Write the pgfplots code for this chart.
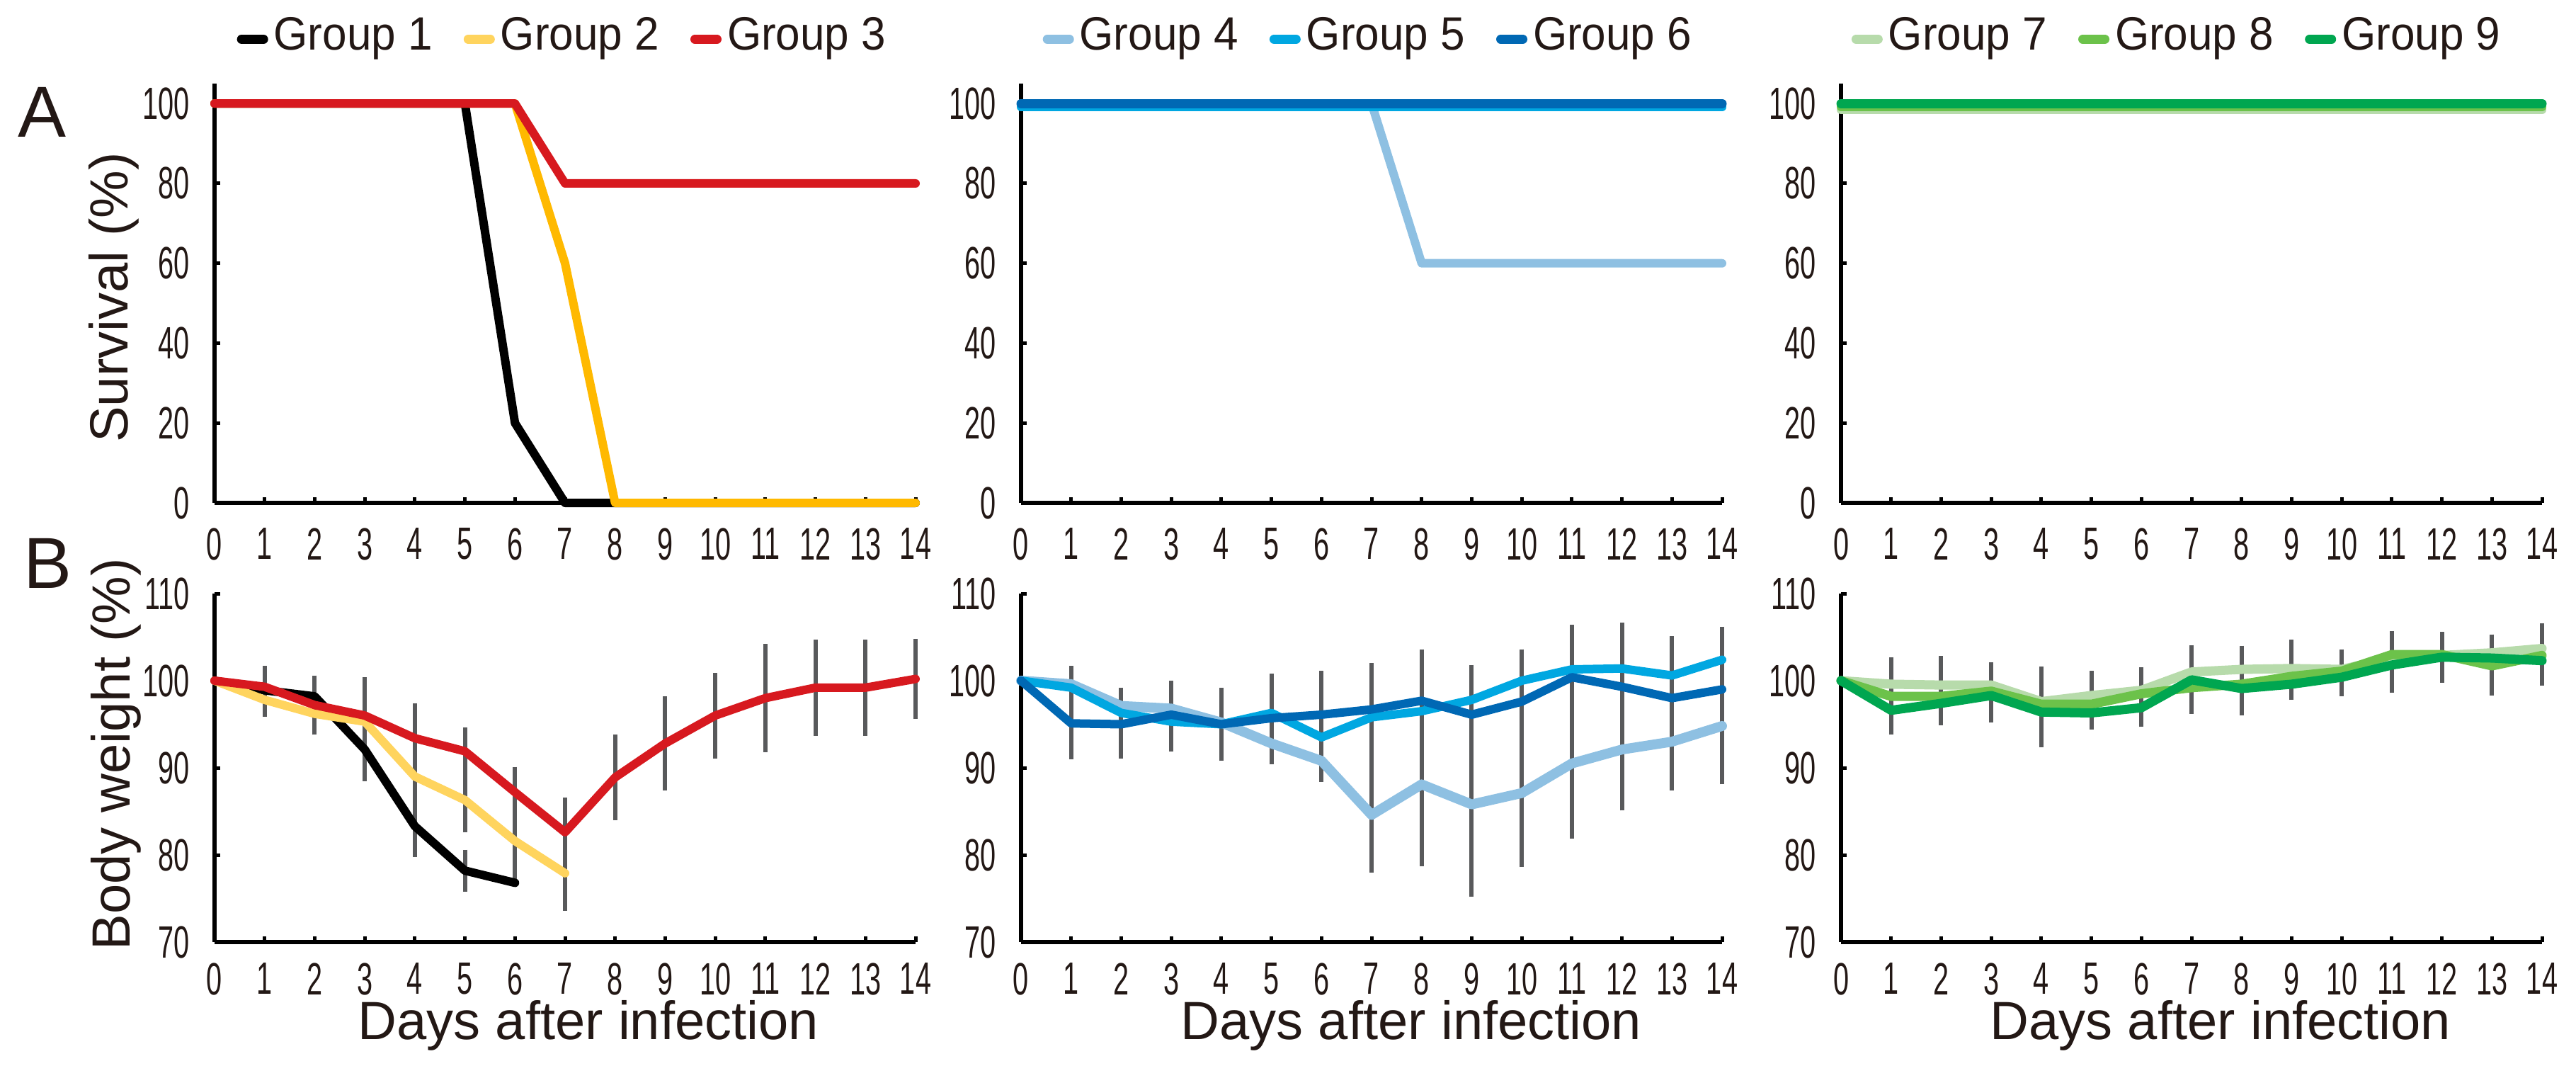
\documentclass[border=0pt]{standalone}
\usepackage{pgfplots}
\pgfplotsset{compat=1.18}
\usepackage{pgfplotstable}
\usepackage{fontspec}
\setmainfont{Liberation Sans}
\newfontfamily\tickfont{Liberation Sans}[FakeStretch=0.62]
\newfontfamily\legfont{Liberation Sans}[FakeStretch=0.94]

\definecolor{txt}{HTML}{231815}
\definecolor{ebar}{HTML}{58595B}
\definecolor{g1c}{HTML}{000000}
\definecolor{g2c}{HTML}{FFB900}
\definecolor{g2l}{HTML}{FFD45E}
\definecolor{g3c}{HTML}{D7191F}
\definecolor{g4c}{HTML}{8EC0E2}
\definecolor{g5c}{HTML}{00A7E1}
\definecolor{g6c}{HTML}{0068B4}
\definecolor{g7c}{HTML}{B7DBAB}
\definecolor{g8c}{HTML}{6CC24A}
\definecolor{g9c}{HTML}{00A650}

% survival (%)
\pgfplotstableread{
d s1 s2 s3
0 100 100 100
1 100 100 100
2 100 100 100
3 100 100 100
4 100 100 100
5 100 100 100
6 20 100 100
7 0 60 80
8 0 0 80
9 0 0 80
10 0 0 80
11 0 0 80
12 0 0 80
13 0 0 80
14 0 0 80
}\survA
\pgfplotstableread{
d s4 s5 s6
0 100 99.1 100
1 100 99.1 100
2 100 99.1 100
3 100 99.1 100
4 100 99.1 100
5 100 99.1 100
6 100 99.1 100
7 100 99.1 100
8 60 99.1 100
9 60 99.1 100
10 60 99.1 100
11 60 99.1 100
12 60 99.1 100
13 60 99.1 100
14 60 99.1 100
}\survB
\pgfplotstableread{
d s7 s8 s9
0 98.4 99.2 100
7 98.4 99.2 100
14 98.4 99.2 100
}\survC

% body weight (%), mean and error
\pgfplotstableread{
d g1 e1 g2 e2 g3 e3
0 100 0 100 0 100 0
1 98.9 1.0 97.8 1.5 99.3 2.0
2 98.2 1.5 96.2 2.0 97.2 3.0
3 92.1 3.2 95.3 2.0 96.0 4.0
4 83.3 3.1 89.0 4.0 93.4 3.6
5 78.2 2.0 86.3 3.3 91.9 2.3
6 76.8 0 81.6 4.0 87.2 2.5
7 nan 0 77.9 3.9 82.6 3.6
8 nan 0 nan 0 88.9 4.5
9 nan 0 nan 0 92.8 5.0
10 nan 0 nan 0 96.0 4.5
11 nan 0 nan 0 98.0 5.8
12 nan 0 nan 0 99.2 5.1
13 nan 0 nan 0 99.2 5.1
14 nan 0 nan 0 100.2 4.2
}\bwA
\pgfplotstableread{
d g4 e4 g5 e5 g6 e6
0 100 0 100 0 100 0
1 99.6 1.7 99.2 2.0 95.1 3.7
2 97.1 1.6 96.3 2.5 95.0 3.5
3 96.8 1.8 95.3 3.0 96.1 3.5
4 95.2 1.5 95.0 3.5 95.0 3.8
5 92.8 2.0 96.3 4.1 95.7 4.0
6 90.8 2.0 93.5 4.7 96.1 4.6
7 84.6 6.2 95.8 5.0 96.7 4.9
8 88.1 9.0 96.5 5.5 97.7 5.5
9 85.8 10.2 97.8 3.6 96.1 5.3
10 87.1 8.1 100.0 3.2 97.6 5.6
11 90.5 8.2 101.3 4.7 100.4 4.5
12 92.1 6.6 101.4 4.9 99.3 5.0
13 93.0 5.2 100.6 4.1 98.0 4.5
14 94.8 6.3 102.4 3.4 99.0 4.0
}\bwB
\pgfplotstableread{
d g7 e7 g8 e8 g9 e9
0 100 0 100 0 100 0
1 99.6 2.7 98.2 1.5 96.6 2.4
2 99.5 2.9 98.2 1.5 97.4 2.1
3 99.5 2.2 98.8 1.5 98.3 2.7
4 97.6 3.6 97.3 2.0 96.4 3.6
5 98.3 2.4 97.3 1.5 96.3 1.5
6 98.9 2.2 98.5 1.5 96.9 1.8
7 101.0 2.7 99.2 1.5 100.1 3.5
8 101.3 2.3 99.6 1.5 99.1 2.7
9 101.4 2.9 100.5 1.5 99.6 1.4
10 101.3 1.9 101.1 1.5 100.4 1.8
11 102.6 2.7 103.0 1.5 101.8 2.8
12 102.9 2.0 103.0 1.5 102.7 2.5
13 103.2 1.7 101.7 3.0 102.6 2.3
14 103.7 2.5 102.9 1.5 102.3 2.5
}\bwC

\pgfplotsset{
  panel/.style={
    scale only axis, width=99pt,
    axis x line=bottom, axis y line=left,
    axis line style={-, line width=0.55pt, black},
    xmin=0, xmax=14, xtick={0,...,14},
    tick align=inside, major tick length=0.8pt,
    tick style={line width=0.5pt, black},
    tick label style={font=\tickfont\fontsize{6.4}{7}\selectfont, text=txt},
    /pgf/number format/assume math mode=true,
    clip=false, unbounded coords=jump,
    every axis plot/.append style={line width=1.2pt, line join=round, line cap=round},
  },
  top/.style={panel, height=59.2pt, ymin=0, ymax=105, ytick={0,20,...,100},
    legend columns=3,
    legend image code/.code={\draw[##1, line width=1.3pt, line cap=round] (0pt,0pt) -- (3.1pt,0pt);},
    legend style={anchor=north west, draw=none, fill=none, inner sep=0pt, outer sep=0pt,
      font=\legfont\fontsize{6.6}{7}\selectfont, text=txt,
      /tikz/every even column/.append style={column sep=3.6pt},
      nodes={inner sep=0.8pt}},
  },
  bottom/.style={panel, height=49.2pt, ymin=70, ymax=110, ytick={70,80,...,110},
    xticklabel style={yshift=0.6pt}},
  ebars/.style={draw=none, mark=none, forget plot,
    skip coords between index={0}{1},
    error bars/.cd, y dir=both, y explicit,
    error bar style={draw=ebar, line width=0.6pt, line cap=butt},
    error mark options={draw=ebar, mark size=0.5pt, line width=0.6pt}},
}

\begin{document}
\begin{tikzpicture}
\useasboundingbox (0,0) rectangle (363.8pt,150.4pt);

% ---- A: survival ----
\begin{axis}[top, at={(30.3pt,79.4pt)}, anchor=south west,
  legend style={at={(0.032,1.171)}}]
  \addlegendimage{g1c}
  \addlegendimage{g2l}
  \addlegendimage{g3c}
  \addplot[g1c, forget plot] table[x=d, y=s1] {\survA};
  \addplot[g2c, forget plot] table[x=d, y=s2] {\survA};
  \addplot[g3c, forget plot] table[x=d, y=s3] {\survA};
  \legend{Group 1, Group 2, Group 3}
\end{axis}

\begin{axis}[top, at={(144.2pt,79.4pt)}, anchor=south west,
  legend style={at={(0.031,1.171)}}]
  \addlegendimage{g4c}
  \addlegendimage{g5c}
  \addlegendimage{g6c}
  \addplot[g4c, forget plot] table[x=d, y=s4] {\survB};
  \addplot[g5c, forget plot] table[x=d, y=s5] {\survB};
  \addplot[g6c, forget plot, line width=1.3pt] table[x=d, y=s6] {\survB};
  \legend{Group 4, Group 5, Group 6}
\end{axis}

\begin{axis}[top, at={(260pt,79.4pt)}, anchor=south west,
  legend style={at={(0.015,1.171)}}]
  \addlegendimage{g7c}
  \addlegendimage{g8c}
  \addlegendimage{g9c}
  \addplot[g7c, forget plot] table[x=d, y=s7] {\survC};
  \addplot[g8c, forget plot] table[x=d, y=s8] {\survC};
  \addplot[g9c, forget plot, line width=1.3pt] table[x=d, y=s9] {\survC};
  \legend{Group 7, Group 8, Group 9}
\end{axis}

% ---- B: body weight ----
\begin{axis}[bottom, at={(30.3pt,17.4pt)}, anchor=south west]
  \addplot[ebars] table[x=d, y=g1, y error=e1] {\bwA};
  \addplot[ebars] table[x=d, y=g2, y error=e2] {\bwA};
  \addplot[ebars] table[x=d, y=g3, y error=e3] {\bwA};
  \addplot[g1c] table[x=d, y=g1] {\bwA};
  \addplot[g2l] table[x=d, y=g2] {\bwA};
  \addplot[g3c] table[x=d, y=g3] {\bwA};
\end{axis}

\begin{axis}[bottom, at={(144.2pt,17.4pt)}, anchor=south west]
  \addplot[ebars] table[x=d, y=g4, y error=e4] {\bwB};
  \addplot[ebars] table[x=d, y=g5, y error=e5] {\bwB};
  \addplot[ebars] table[x=d, y=g6, y error=e6] {\bwB};
  \addplot[g4c, line width=1.4pt] table[x=d, y=g4] {\bwB};
  \addplot[g5c] table[x=d, y=g5] {\bwB};
  \addplot[g6c] table[x=d, y=g6] {\bwB};
\end{axis}

\begin{axis}[bottom, at={(260pt,17.4pt)}, anchor=south west]
  \addplot[ebars] table[x=d, y=g7, y error=e7] {\bwC};
  \addplot[ebars] table[x=d, y=g8, y error=e8] {\bwC};
  \addplot[ebars] table[x=d, y=g9, y error=e9] {\bwC};
  \addplot[g7c, line width=1.3pt] table[x=d, y=g7] {\bwC};
  \addplot[g8c, line width=1.3pt] table[x=d, y=g8] {\bwC};
  \addplot[g9c, line width=1.3pt] table[x=d, y=g9] {\bwC};
\end{axis}

% ---- labels ----
\begin{scope}[every node/.style={text=txt, inner sep=0pt}]
  \node[anchor=base west, font=\fontsize{10.2}{12}\selectfont] at (2.4pt,131.1pt) {A};
  \node[anchor=base west, font=\fontsize{10.2}{12}\selectfont] at (3.2pt,67.4pt) {B};
  \node[rotate=90, anchor=base, font=\fontsize{7.6}{9}\selectfont] at (18.0pt,108.4pt) {Survival (\%)};
  \node[rotate=90, anchor=base, font=\fontsize{7.6}{9}\selectfont] at (18.3pt,43.9pt) {Body weight (\%)};
  \node[anchor=base, font=\fontsize{7.6}{9}\selectfont] at (83.1pt,3.7pt) {Days after infection};
  \node[anchor=base, font=\fontsize{7.6}{9}\selectfont] at (199.3pt,3.7pt) {Days after infection};
  \node[anchor=base, font=\fontsize{7.6}{9}\selectfont] at (313.6pt,3.7pt) {Days after infection};
\end{scope}
\end{tikzpicture}
\end{document}
